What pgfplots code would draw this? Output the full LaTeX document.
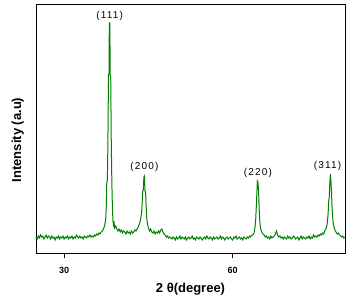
\documentclass[border=0pt]{standalone}
\usepackage{pgfplots}
\pgfplotsset{compat=1.18}
\usepackage{fontspec}
\setmainfont{Liberation Sans}
\newfontfamily\peakfont[LetterSpace=12]{Liberation Sans}
\definecolor{xrdgreen}{RGB}{0,128,0}
\begin{document}
\begin{tikzpicture}
\begin{axis}[
  scale only axis,
  width=309pt, height=249pt,
  xmin=25, xmax=80, ymin=0, ymax=249,
  xtick={30,60},
  ytick=\empty,
  xtick pos=bottom,
  tick align=outside,
  major tick length=5pt,
  axis line style={line width=0.8pt},
  every tick/.style={black, line width=0.8pt},
  /pgf/number format/assume math mode=true,
  tick label style={font=\bfseries\fontsize{9}{10}\selectfont},
  xticklabel style={yshift=-6pt},
  xlabel={2 θ(degree)},
  ylabel={Intensity (a.u)},
  xlabel style={font=\bfseries\fontsize{13}{15}\selectfont, at={(axis description cs:0.5,0)}, anchor=center, yshift=-36pt},
  ylabel style={font=\bfseries\fontsize{13}{15}\selectfont, at={(axis description cs:-0.028,0.454)}, anchor=south},
  clip=false,
]
\addplot[xrdgreen, line width=1pt] coordinates {
(25.0,16) (25.2,14) (25.4,17) (25.6,15) (25.8,18) (26.0,16) (26.2,17) (26.4,14) (26.6,16) (26.8,18)
(27.0,15) (27.2,17) (27.4,16) (27.6,14) (27.8,17) (28.0,15) (28.2,16) (28.4,13) (28.6,16) (28.8,15)
(29.0,17) (29.2,14) (29.4,16) (29.6,15) (29.8,17) (30.0,14) (30.2,16) (30.4,15) (30.6,17) (30.8,14)
(31.0,16) (31.2,15) (31.4,17) (31.6,14) (31.8,16) (32.0,15) (32.2,18) (32.4,16) (32.6,15) (32.8,17)
(33.0,15) (33.2,16) (33.4,14) (33.6,17) (33.8,16) (34.0,15) (34.2,17) (34.4,16) (34.6,18) (34.8,16)
(35.0,17) (35.2,16) (35.4,18) (35.6,17) (35.8,19) (36.0,18) (36.2,20) (36.4,19) (36.6,21) (36.8,22)
(37.0,24) (37.2,27) (37.4,33) (37.5,45) (37.6,71) (37.7,72) (37.8,110) (37.9,178) (38.0,180) (38.05,230)
(38.15,230) (38.2,178) (38.3,175) (38.4,110) (38.5,71) (38.6,45) (38.7,32) (38.8,28) (38.9,30) (39.0,25)
(39.2,27) (39.4,24) (39.6,22) (39.8,24) (40.0,21) (40.2,23) (40.4,20) (40.6,22) (40.8,21) (41.0,19)
(41.2,22) (41.4,20) (41.6,21) (41.8,19) (42.0,22) (42.2,20) (42.4,21) (42.6,23) (42.8,22) (43.0,24)
(43.2,26) (43.4,29) (43.6,33) (43.8,40) (43.9,50) (44.0,62) (44.1,63) (44.2,76) (44.3,77) (44.4,62)
(44.5,61) (44.6,48) (44.7,36) (44.8,31) (44.9,28) (45.0,25) (45.2,22) (45.4,24) (45.6,21) (45.8,20)
(46.0,22) (46.2,19) (46.4,21) (46.6,20) (46.8,22) (47.0,20) (47.2,23) (47.4,24) (47.6,21) (47.8,19)
(48.0,18) (48.2,16) (48.4,17) (48.6,15) (48.8,16)
(49.0,15) (49.2,14) (49.4,16) (49.6,15) (49.8,13) (50.0,16) (50.2,14) (50.4,15) (50.6,17) (50.8,14)
(51.0,16) (51.2,15) (51.4,14) (51.6,16) (51.8,13) (52.0,15) (52.2,16) (52.4,14) (52.6,15) (52.8,17)
(53.0,14) (53.2,15) (53.4,13) (53.6,16) (53.8,15) (54.0,14) (54.2,16) (54.4,15) (54.6,13) (54.8,15)
(55.0,16) (55.2,14) (55.4,17) (55.6,15) (55.8,14) (56.0,16) (56.2,15) (56.4,13) (56.6,16) (56.8,14)
(57.0,15) (57.2,16) (57.4,14) (57.6,15) (57.8,17) (58.0,14) (58.2,16) (58.4,15) (58.6,13) (58.8,15)
(59.0,16) (59.2,14) (59.4,15) (59.6,16) (59.8,14) (60.0,13) (60.2,16) (60.4,15) (60.6,17) (60.8,14)
(61.0,15) (61.2,16) (61.4,14) (61.6,15) (61.8,13) (62.0,16) (62.2,15) (62.4,14) (62.6,16) (62.8,15)
(63.0,17) (63.2,16) (63.4,18)
(63.6,18) (63.8,20) (63.9,23) (64.0,27) (64.1,33) (64.2,45) (64.3,58) (64.4,72) (64.5,71) (64.6,64)
(64.7,48) (64.8,35) (64.9,28) (65.0,24) (65.2,21) (65.4,19) (65.6,18) (65.8,16) (66.0,17) (66.2,15)
(66.4,16) (66.6,14) (66.8,17) (67.0,15) (67.2,16) (67.4,17) (67.6,19) (67.8,22) (68.0,18) (68.2,16)
(68.4,17) (68.6,15) (68.8,16) (69.0,14)
(69.2,16) (69.4,15) (69.6,14) (69.8,17) (70.0,15) (70.2,16) (70.4,14) (70.6,15) (70.8,17) (71.0,16)
(71.2,14) (71.4,15) (71.6,16) (71.8,13) (72.0,15) (72.2,17) (72.4,14) (72.6,16) (72.8,15) (73.0,14)
(73.2,16) (73.4,15) (73.6,17) (73.8,14) (74.0,16) (74.2,15) (74.4,18) (74.6,16) (74.8,17)
(75.0,16) (75.2,18) (75.4,17) (75.6,19) (75.8,18) (76.0,20) (76.2,19) (76.4,22) (76.6,24) (76.8,28)
(76.9,33) (77.0,40) (77.1,52) (77.2,56) (77.3,70) (77.4,79) (77.5,72) (77.6,60) (77.7,45) (77.8,36)
(77.9,30) (78.0,27) (78.2,23) (78.4,21) (78.6,19) (78.8,20) (79.0,18) (79.2,17) (79.4,16) (79.6,17)
(79.8,15) (80.0,16)
};
\node[font=\peakfont\fontsize{10}{12}\selectfont] at (axis cs:38.1,237) {(111)};
\node[font=\peakfont\fontsize{10}{12}\selectfont] at (axis cs:44.3,86) {(200)};
\node[font=\peakfont\fontsize{10}{12}\selectfont] at (axis cs:64.5,80) {(220)};
\node[font=\peakfont\fontsize{10}{12}\selectfont] at (axis cs:76.9,87) {(311)};
\end{axis}
\pgfresetboundingbox
\path ([shift={(-36pt,-50pt)}]current axis.south west) rectangle ([shift={(13pt,4pt)}]current axis.north east);
\end{tikzpicture}
\end{document}
